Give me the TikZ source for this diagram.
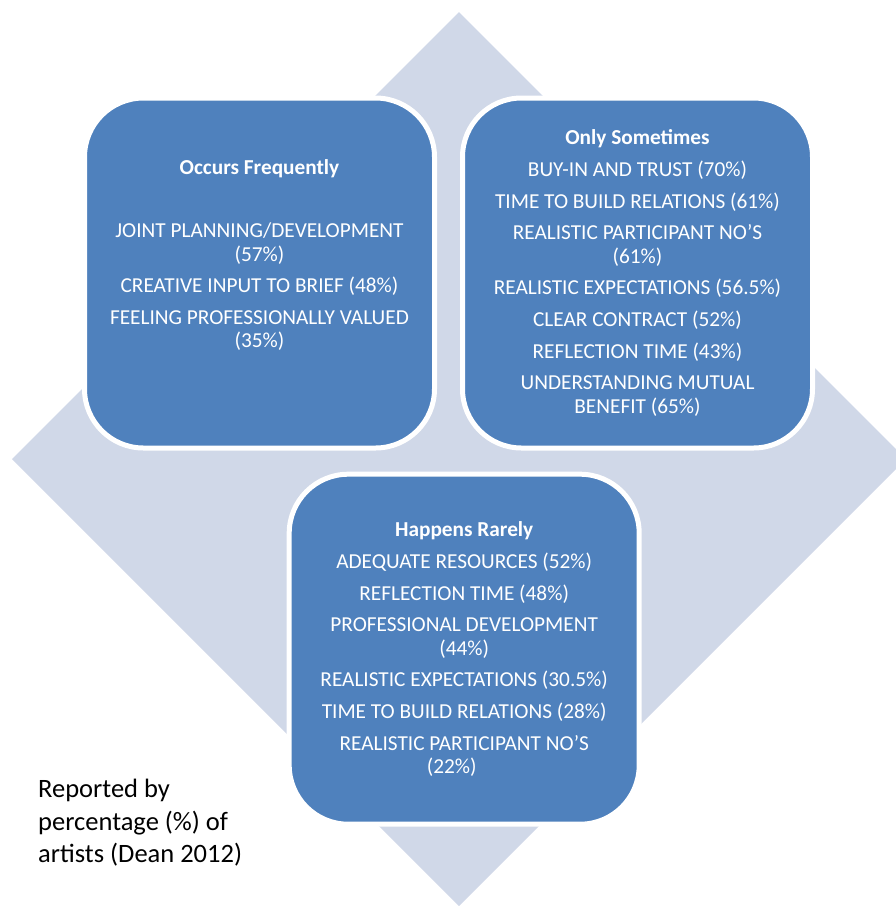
\documentclass[tikz,border=0pt]{standalone}
\usepackage{fontspec}
\setmainfont{Carlito}
\definecolor{boxblue}{HTML}{4F81BD}
\definecolor{diamondgrey}{HTML}{D0D8E8}

\begin{document}
\begin{tikzpicture}[x=1pt, y=-1pt,
	box/.style = {draw=white, line width=5pt, fill=boxblue, rounded corners=59pt, minimum width=350pt, minimum height=350pt, text=white, align=center, inner sep=0pt, font=\fontsize{21.3}{23.3}\selectfont},
	note/.style = {align=left, inner sep=0pt, anchor=north west, font=\fontsize{26.5}{32.5}\selectfont}]
	\useasboundingbox (0,0) rectangle (896,906);
	\clip (0,0) rectangle (896,906);
	\fill [diamondgrey] (459,12) -- (906,459) -- (459,906) -- (12,459) -- cycle;
	\node [box] (frequent) at (259.5,273) {\textbf{Occurs Frequently}\\[8.4pt] \strut\\[8.4pt] JOINT PLANNING/DEVELOPMENT\\(57\%)\\[8.4pt] CREATIVE INPUT TO BRIEF (48\%)\\[8.4pt] FEELING PROFESSIONALLY VALUED\\(35\%)\\[8.4pt] \strut};
	\node [box] (sometimes) at (637.5,273) {\textbf{Only Sometimes}\\[8.4pt] BUY-IN AND TRUST (70\%)\\[8.4pt] TIME TO BUILD RELATIONS (61\%)\\[8.4pt] REALISTIC PARTICIPANT NO’S\\(61\%)\\[8.4pt] REALISTIC EXPECTATIONS (56.5\%)\\[8.4pt] CLEAR CONTRACT (52\%)\\[8.4pt] REFLECTION TIME (43\%)\\[8.4pt] UNDERSTANDING MUTUAL\\BENEFIT (65\%)};
	\node [box] (rarely) at (464.2,649.2) {\textbf{Happens Rarely}\\[8.4pt] ADEQUATE RESOURCES (52\%)\\[8.4pt] REFLECTION TIME (48\%)\\[8.4pt] PROFESSIONAL DEVELOPMENT\\(44\%)\\[8.4pt] REALISTIC EXPECTATIONS (30.5\%)\\[8.4pt] TIME TO BUILD RELATIONS (28\%)\\[8.4pt] REALISTIC PARTICIPANT NO’S\\(22\%)\hspace*{25pt}};
	\node [note] (source) at (38,779) {Reported by\\percentage (\%) of\\artists (Dean 2012)};
\end{tikzpicture}
\end{document}
